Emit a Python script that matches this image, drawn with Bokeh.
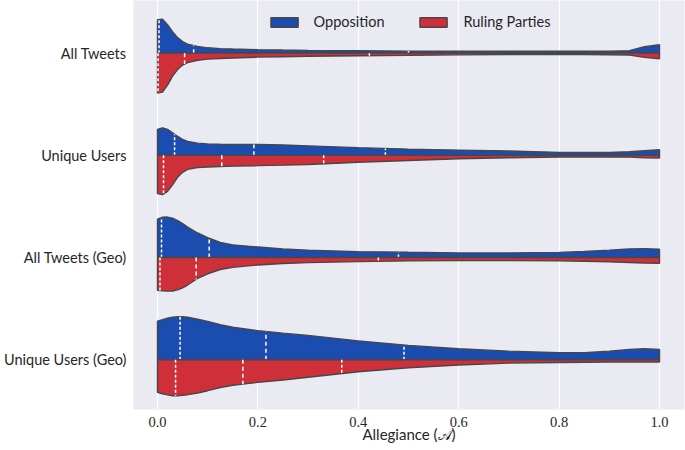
import numpy as np
from bokeh.plotting import figure
from bokeh.models import Range1d, FixedTicker, Legend, LegendItem
from bokeh.embed import file_html
from bokeh.resources import INLINE

# ---------------- data ----------------
categories = ["All Tweets", "Unique Users", "All Tweets (Geo)", "Unique Users (Geo)"]
series_names = ["Opposition", "Ruling Parties"]

# support points of the density curves (Allegiance)
support = [0, 0.01, 0.02, 0.03, 0.04, 0.05, 0.06, 0.08, 0.1, 0.125, 0.15, 0.2,
           0.25, 0.3, 0.4, 0.5, 0.6, 0.7, 0.8, 0.85, 0.9, 0.94, 0.97, 1.0]

# half-widths of each half-violin (in category units)
opp_all_tweets = [0.327, 0.331, 0.279, 0.210, 0.152, 0.113, 0.088, 0.066, 0.052, 0.044, 0.040, 0.034,
                  0.030, 0.027, 0.023, 0.020, 0.019, 0.020, 0.019, 0.018, 0.018, 0.023, 0.062, 0.082]
rul_all_tweets = [0.391, 0.382, 0.313, 0.225, 0.161, 0.117, 0.093, 0.070, 0.059, 0.052, 0.047, 0.039,
                  0.035, 0.031, 0.026, 0.022, 0.017, 0.014, 0.013, 0.014, 0.016, 0.018, 0.041, 0.055]
opp_unique_users = [0.254, 0.269, 0.254, 0.220, 0.186, 0.157, 0.137, 0.119, 0.112, 0.108, 0.106, 0.106,
                    0.101, 0.093, 0.075, 0.061, 0.051, 0.042, 0.029, 0.027, 0.027, 0.035, 0.045, 0.054]
rul_unique_users = [0.375, 0.385, 0.352, 0.289, 0.215, 0.166, 0.137, 0.119, 0.114, 0.110, 0.106, 0.101,
                    0.096, 0.090, 0.068, 0.051, 0.033, 0.023, 0.017, 0.016, 0.016, 0.018, 0.023, 0.027]
opp_all_tweets_geo = [0.375, 0.394, 0.396, 0.385, 0.362, 0.333, 0.298, 0.240, 0.194, 0.147, 0.124, 0.103,
                      0.083, 0.071, 0.058, 0.051, 0.045, 0.044, 0.050, 0.059, 0.072, 0.084, 0.087, 0.081]
rul_all_tweets_geo = [0.320, 0.325, 0.329, 0.327, 0.316, 0.296, 0.269, 0.205, 0.159, 0.117, 0.096, 0.073,
                      0.059, 0.050, 0.040, 0.033, 0.030, 0.030, 0.033, 0.037, 0.043, 0.049, 0.054, 0.057]
opp_unique_users_geo = [0.377, 0.391, 0.406, 0.416, 0.421, 0.421, 0.416, 0.396, 0.375, 0.342, 0.318, 0.284,
                        0.260, 0.238, 0.185, 0.140, 0.108, 0.084, 0.068, 0.070, 0.084, 0.101, 0.108, 0.101]
rul_unique_users_geo = [0.320, 0.333, 0.344, 0.352, 0.352, 0.347, 0.342, 0.326, 0.303, 0.272, 0.250, 0.222,
                        0.199, 0.172, 0.117, 0.079, 0.051, 0.033, 0.027, 0.025, 0.023, 0.023, 0.023, 0.023]

# quartiles (Q1, median, Q3)
opp_quartiles = [[0.003, 0.072, 0.500], [0.034, 0.192, 0.454], [0.008, 0.103, 0.480], [0.045, 0.216, 0.491]]
rul_quartiles = [[0.001, 0.054, 0.422], [0.012, 0.128, 0.331], [0.005, 0.077, 0.440], [0.036, 0.170, 0.367]]

x_ticks = [0.0, 0.2, 0.4, 0.6, 0.8, 1.0]
x_tick_labels = ["0.0", "0.2", "0.4", "0.6", "0.8", "1.0"]
x_label = "Allegiance (\U0001D49C)"

opp_widths = [opp_all_tweets, opp_unique_users, opp_all_tweets_geo, opp_unique_users_geo]
rul_widths = [rul_all_tweets, rul_unique_users, rul_all_tweets_geo, rul_unique_users_geo]

# ---------------- style ----------------
BLUE = "#1b4cb0"
RED = "#cf2f38"
EDGE = "#474747"
BG = "#eaeaf2"

p = figure(frame_width=551, frame_height=409,
           x_range=Range1d(-0.0478, 1.0498), y_range=Range1d(3.487, -0.515),
           output_backend="svg", toolbar_location=None,
           min_border_left=133, min_border_right=1, min_border_top=0, min_border_bottom=0)
p.background_fill_color = BG
p.border_fill_color = "white"
p.outline_line_color = None

renderers = {}
for i, cat in enumerate(categories):
    for name, widths, sign, color, quarts in (
            (series_names[0], opp_widths[i], -1, BLUE, opp_quartiles[i]),
            (series_names[1], rul_widths[i], 1, RED, rul_quartiles[i])):
        xs = list(support) + [support[-1], support[0]]
        ys = [i + sign * w for w in widths] + [i, i]
        r = p.patch(xs, ys, fill_color=color, line_color=EDGE, line_width=1.4)
        renderers.setdefault(name, r)
        # quartile lines
        hw = np.interp(quarts, support, widths)
        for k, (q, h) in enumerate(zip(quarts, hw)):
            p.segment(x0=[q], y0=[i], x1=[q], y1=[i + sign * h],
                      line_color="white", line_width=1.5,
                      line_dash="4 3" if k == 1 else "3 2")

# axes
p.xaxis.ticker = FixedTicker(ticks=x_ticks)
p.xaxis.major_label_overrides = {t: l for t, l in zip(x_ticks, x_tick_labels)}
p.xaxis.axis_label = x_label
p.xaxis.axis_label_text_font = "Lato"
p.xaxis.axis_label_text_font_size = "15px"
p.xaxis.axis_label_text_font_style = "normal"
p.xaxis.axis_label_text_color = "#262626"
p.xaxis.axis_label_standoff = -5
p.xaxis.major_label_text_font = "Liberation Serif"
p.xaxis.major_label_text_font_size = "14.5px"
p.xaxis.major_label_text_color = "#262626"
p.xaxis.major_label_standoff = 7

p.yaxis.ticker = FixedTicker(ticks=list(range(len(categories))))
p.yaxis.major_label_overrides = {i: c for i, c in enumerate(categories)}
p.yaxis.major_label_text_font = "Lato"
p.yaxis.major_label_text_font_size = "14.5px"
p.yaxis.major_label_text_color = "#262626"
p.yaxis.major_label_standoff = 7

for ax in (p.xaxis, p.yaxis):
    ax.axis_line_color = None
    ax.major_tick_line_color = None
    ax.minor_tick_line_color = None
    ax.major_tick_out = 0
    ax.major_tick_in = 0

p.xgrid.ticker = FixedTicker(ticks=x_ticks)
p.xgrid.grid_line_color = "white"
p.xgrid.grid_line_width = 1.2
p.ygrid.visible = False

legend = Legend(items=[LegendItem(label=n, renderers=[renderers[n]]) for n in series_names],
                orientation="horizontal", location="top_center")
legend.background_fill_alpha = 0
legend.border_line_color = None
legend.glyph_width = 34
legend.glyph_height = 12
legend.label_standoff = 13
legend.spacing = 32
legend.padding = 4
legend.margin = 13
legend.label_text_font = "Lato"
legend.label_text_font_size = "14.5px"
legend.label_text_color = "#262626"
p.add_layout(legend)

open("out.html", "w").write(file_html(p, INLINE))
